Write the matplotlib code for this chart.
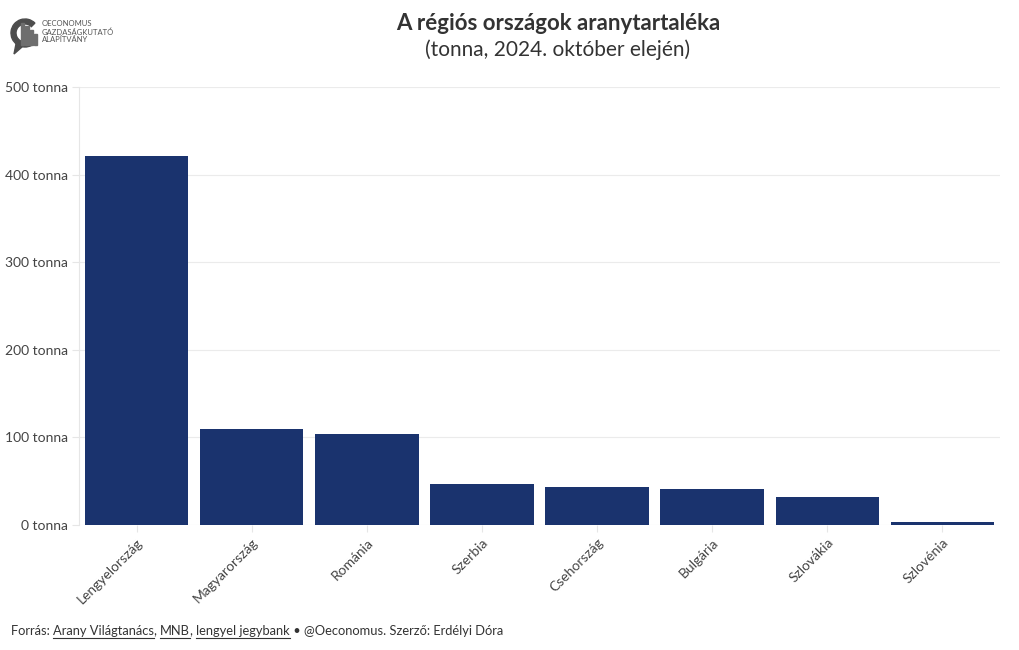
import matplotlib
matplotlib.use('agg')
import matplotlib.pyplot as plt
from matplotlib.patches import Wedge, Rectangle, Polygon
from matplotlib.lines import Line2D

plt.rcParams['font.family'] = ['Lato', 'DejaVu Sans']

orszagok = ['Lengyelország', 'Magyarország', 'Románia', 'Szerbia',
            'Csehország', 'Bulgária', 'Szlovákia', 'Szlovénia']
tonna = [420.9, 110.0, 103.6, 46.6, 43.3, 41.0, 31.9, 3.2]
y_ticks = [0, 100, 200, 300, 400, 500]

W, H = 1020, 650
fig = plt.figure(figsize=(W / 100, H / 100), dpi=100)
ax = fig.add_axes([79 / W, 1 - 525 / H, (1000 - 79) / W, (525 - 87) / H])

ax.bar(range(len(orszagok)), tonna, width=0.9, color='#1a336e', zorder=3)
ax.set_xlim(-0.5, len(orszagok) - 0.5)
ax.set_ylim(0, 500)
ax.set_yticks(y_ticks)
ax.set_yticklabels([f'{v} tonna' for v in y_ticks], fontsize=10, color='#444444')
ax.set_xticks(range(len(orszagok)))
ax.set_xticklabels(orszagok, rotation=45, ha='right', rotation_mode='anchor',
                   fontsize=10, color='#444444')
ax.grid(axis='y', color='#ebebeb', linewidth=0.8, zorder=0)
for s in ['top', 'right', 'bottom']:
    ax.spines[s].set_visible(False)
ax.spines['left'].set_color('#e6e6e6')
ax.tick_params(axis='both', length=5, color='#e6e6e6', pad=3)

# cim
fig.text(558 / W, 1 - 24 / H, 'A régiós országok aranytartaléka', ha='center', va='center',
         fontsize=16, fontweight='bold', color='#333333')
fig.text(558 / W, 1 - 50 / H, '(tonna, 2024. október elején)', ha='center', va='center',
         fontsize=15, color='#333333')

# logo
lax = fig.add_axes([10 / W, 1 - 56 / H, 32 / W, 42 / H])
lax.set_xlim(0, 32)
lax.set_ylim(0, 42)
lax.set_aspect('equal')
lax.axis('off')
lax.add_patch(Wedge((15, 23), 14, 45, 300, width=5, color='#4d4d4d'))
lax.add_patch(Polygon([[6, 12], [4, 2], [12, 9]], color='#4d4d4d'))
for i, h in enumerate([22, 19, 15, 11]):
    lax.add_patch(Rectangle((11 + i * 4.3, 11), 3.3, h, color='#6e6e6e'))
for i, t in enumerate(['OECONOMUS', 'GAZDASÁGKUTATÓ', 'ALAPÍTVÁNY']):
    fig.text(42 / W, 1 - (24 + i * 8) / H, t, fontsize=5.5, color='#555555', va='center')

# forras, alahuzott linkekkel
darabok = [('Forrás: ', False), ('Arany Világtanács', True), (', ', False), ('MNB', True),
           (', ', False), ('lengyel jegybank', True),
           (' • @Oeconomus. Szerző: Erdélyi Dóra', False)]
fig.canvas.draw()
renderer = fig.canvas.get_renderer()
x = 11
ybase = 631
for szoveg, link in darabok:
    t = fig.text(x / W, 1 - ybase / H, szoveg, fontsize=9.3, color='#333333', va='center')
    bb = t.get_window_extent(renderer)
    if link:
        fig.add_artist(Line2D([x / W, (x + bb.width) / W], [1 - (ybase + 7) / H] * 2,
                              color='#333333', linewidth=0.8))
    x += bb.width

fig.savefig('out.png', dpi=100)
